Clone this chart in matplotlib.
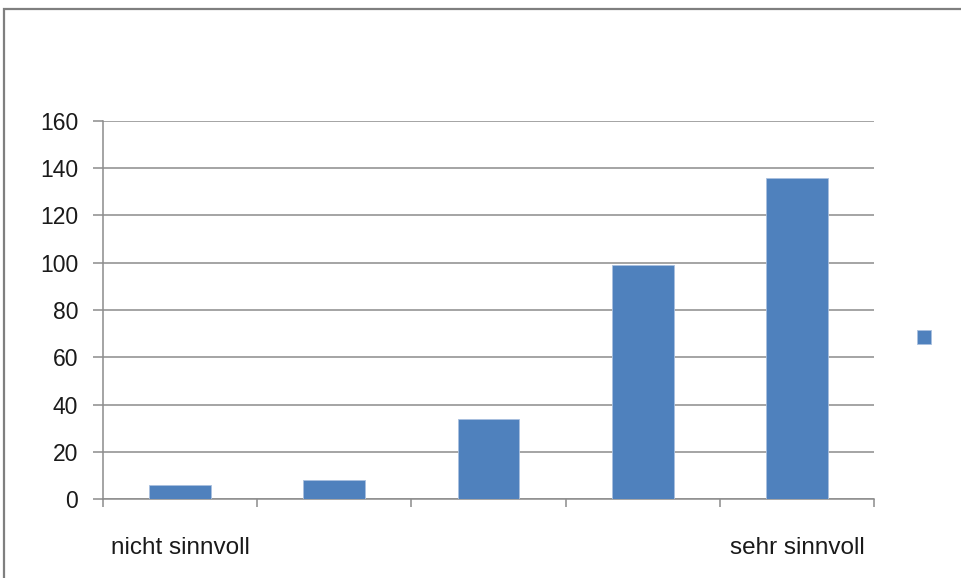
import matplotlib
matplotlib.use('Agg')
import matplotlib.pyplot as plt
from matplotlib.patches import Rectangle
import numpy as np

# data
categories = ['nicht sinnvoll', '', '', '', 'sehr sinnvoll']
values = [6, 8, 34, 99, 136]
y_ticks = [0, 20, 40, 60, 80, 100, 120, 140, 160]

bar_color = '#4F81BD'
grid_color = '#8c8c8c'

plt.rcParams['font.family'] = ['Liberation Sans', 'DejaVu Sans']

fig = plt.figure(figsize=(9.62, 5.78), dpi=100)
ax = fig.add_axes([103/962, 1 - 499/578, (874 - 103)/962, (499 - 121)/578])

x = np.arange(len(values))
bars = ax.bar(x, values, width=0.4, color=bar_color, edgecolor='#a9c0df',
              linewidth=0.6, zorder=3)

ax.set_xlim(-0.5, len(values) - 0.5)
ax.set_ylim(0, 160)
ax.set_yticks(y_ticks)
ax.yaxis.grid(True, color=grid_color, linewidth=1.1, zorder=0)

ax.set_xticks(x)
ax.set_xticklabels(categories)
ax.set_xticks(np.arange(-0.5, len(values)), minor=True)
ax.tick_params(axis='x', which='major', length=0, pad=27, labelsize=17.5,
               labelcolor='#1a1a1a')
ax.tick_params(axis='x', which='minor', length=6, width=1.1, color=grid_color)
ax.tick_params(axis='y', length=7, width=1.1, color=grid_color, pad=11,
               labelsize=16.5, labelcolor='#1a1a1a')

for side in ['top', 'right']:
    ax.spines[side].set_visible(False)
for side in ['left', 'bottom']:
    ax.spines[side].set_color(grid_color)
    ax.spines[side].set_linewidth(1.1)

# legend: only the marker, no text
fig.legend([bars], [''], loc='center', bbox_to_anchor=(924/962, 1 - 339/578),
           frameon=False, fontsize=14, handlelength=0.75, handleheight=0.75,
           handletextpad=0, borderpad=0)

# outer chart frame (only top and left edges visible in the crop)
fig.add_artist(Rectangle((4/962, -0.2), 1.2, 1.2 - 9/578,
                         transform=fig.transFigure, fill=False,
                         edgecolor='#7f7f7f', linewidth=1.6))

fig.savefig('out.png', dpi=100)
